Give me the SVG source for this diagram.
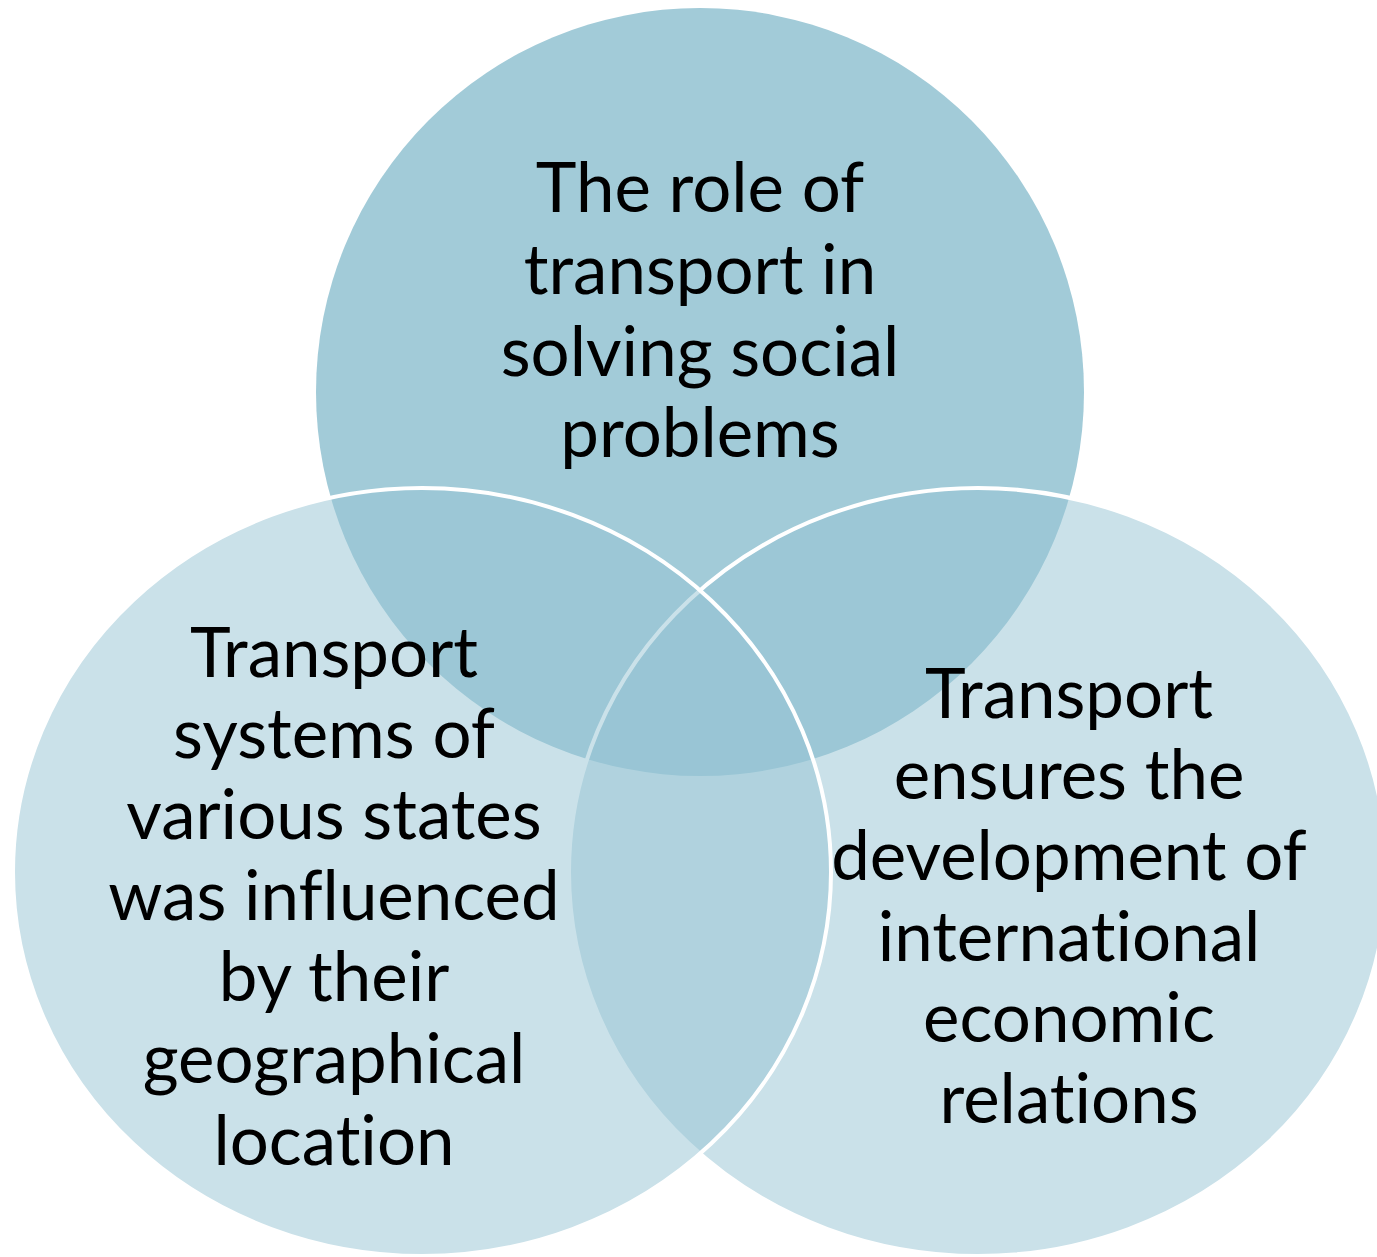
<svg xmlns="http://www.w3.org/2000/svg" width="1377" height="1257" viewBox="0 0 1377 1257">
  <style>
    .lbl { font-family: Lato, "Open Sans", "Liberation Sans", sans-serif; font-size: 69px; fill: #000000; text-anchor: middle; font-variant-ligatures: none; font-feature-settings: "liga" 0; }
    .top { fill: #a2cbd8; }
    .side { fill: #95c3d3; fill-opacity: 0.5; stroke: #ffffff; stroke-width: 4; }
  </style>
  <rect x="0" y="0" width="1377" height="1257" fill="#ffffff"/>
  <g id="node-social">
    <circle class="top" cx="700" cy="392" r="384"/>
    <text class="lbl" x="700" y="212">The role of</text>
    <text class="lbl" x="700" y="294">transport in</text>
    <text class="lbl" x="700" y="376">solving social</text>
    <text class="lbl" x="700" y="457">problems</text>
  </g>
  <g id="node-international">
    <ellipse class="side" cx="978" cy="872" rx="409" ry="384"/>
    <text class="lbl" x="1069" y="718">Transport</text>
    <text class="lbl" x="1069" y="799">ensures the</text>
    <text class="lbl" x="1069" y="880">development of</text>
    <text class="lbl" x="1069" y="961">international</text>
    <text class="lbl" x="1069" y="1042">economic</text>
    <text class="lbl" x="1069" y="1123">relations</text>
  </g>
  <g id="node-geography">
    <ellipse class="side" cx="422" cy="872" rx="409" ry="384"/>
    <text class="lbl" x="334" y="677">Transport</text>
    <text class="lbl" x="334" y="758">systems of</text>
    <text class="lbl" x="334" y="839">various states</text>
    <text class="lbl" x="334" y="920">was influenced</text>
    <text class="lbl" x="334" y="1001">by their</text>
    <text class="lbl" x="334" y="1083">geographical</text>
    <text class="lbl" x="334" y="1165">location</text>
  </g>
</svg>
